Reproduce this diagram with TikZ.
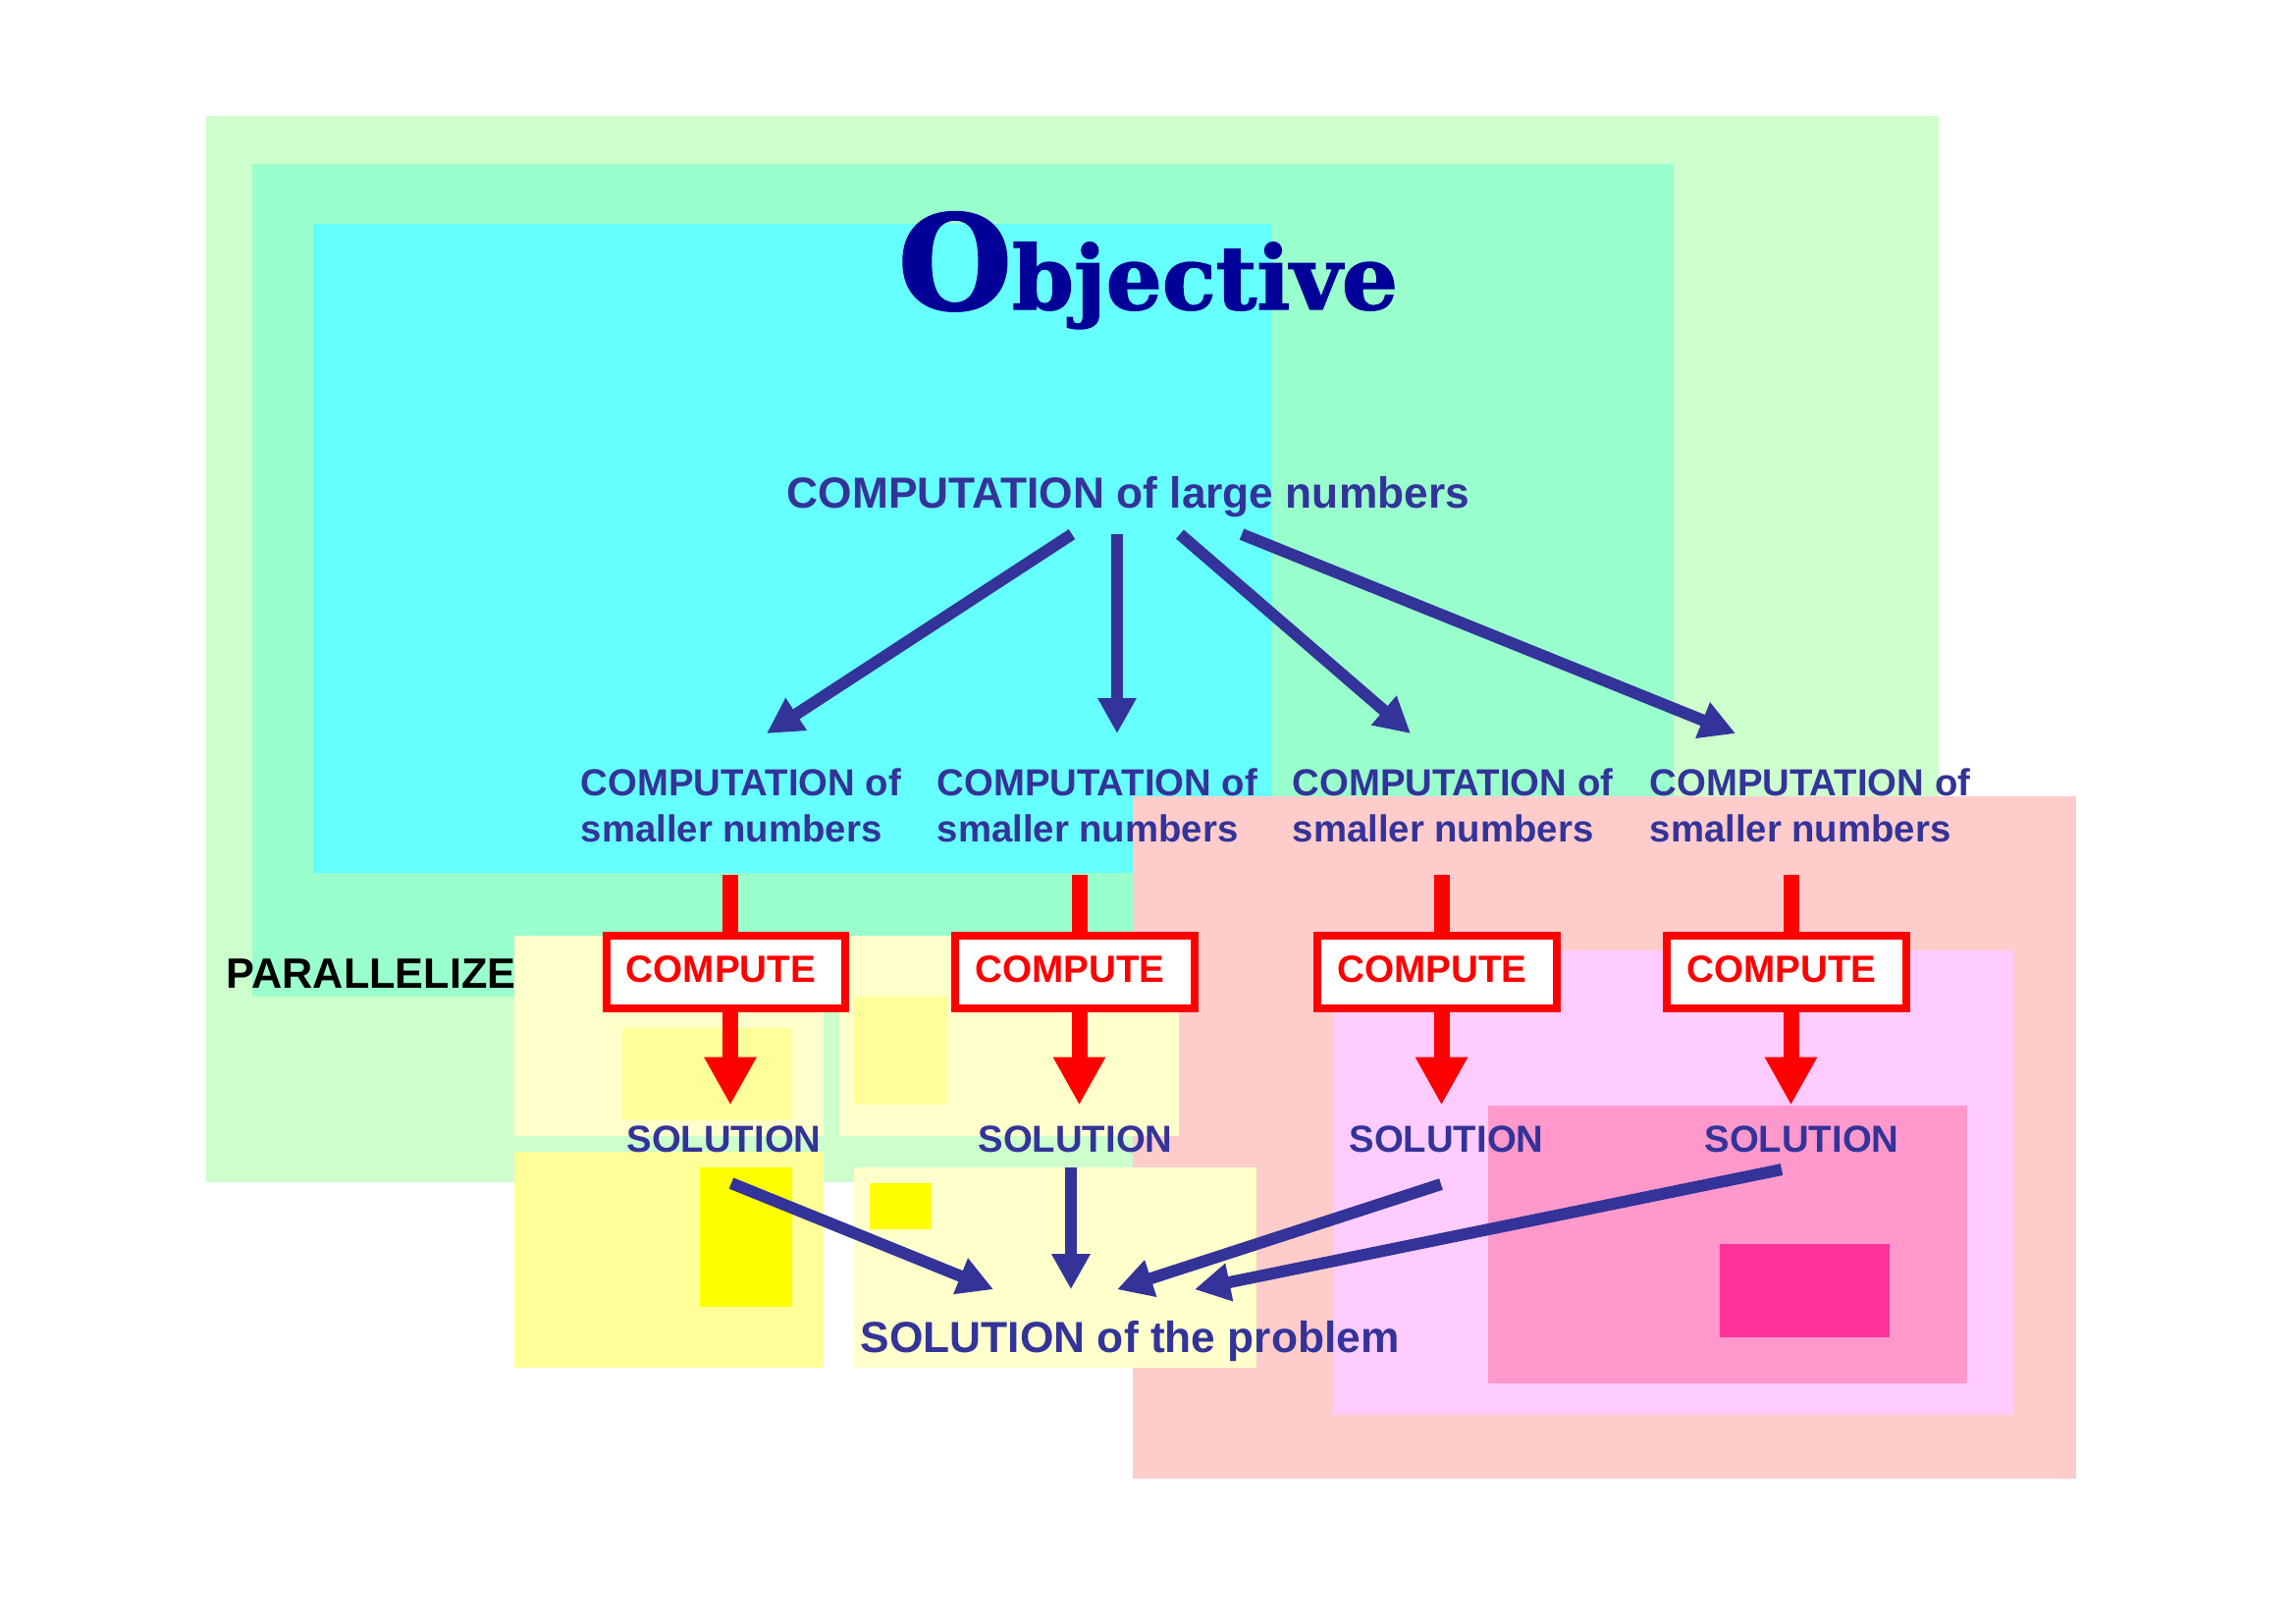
\documentclass[tikz,border=0pt]{standalone}
\usepackage{fontspec}
\setmainfont{Liberation Sans}
\newfontfamily\objfont[UprightFont={* Bold}, FakeBold=1.6]{DejaVu Serif}
\usetikzlibrary{positioning, arrows.meta, calc}

\definecolor{lgreen}{HTML}{CCFFCC}
\definecolor{mgreen}{HTML}{99FFCC}
\definecolor{lcyan}{HTML}{66FFFF}
\definecolor{salmon}{HTML}{FFCCCC}
\definecolor{lmagenta}{HTML}{FFCCFF}
\definecolor{mpink}{HTML}{FF99CC}
\definecolor{hpink}{HTML}{FF3399}
\definecolor{lyellow}{HTML}{FFFFCC}
\definecolor{myellow}{HTML}{FFFF99}
\definecolor{syellow}{HTML}{FFFF00}
\definecolor{lblue}{HTML}{333399}
\definecolor{objblue}{HTML}{000099}

\tikzset{
  lbl/.style={text=lblue, font=\bfseries\fontsize{10.9}{13.4}\selectfont, inner sep=0pt},
  biglbl/.style={text=lblue, font=\bfseries\fontsize{12.6}{15}\selectfont, inner sep=0pt},
  computebox/.style={draw=red, line width=0.08cm, fill=white, text=red,
    font=\bfseries\fontsize{11}{13}\selectfont, minimum width=2.43cm,
    minimum height=0.74cm, inner sep=0pt, text depth=0.07cm},
  redline/.style={draw=red, line width=0.16cm},
  redarrow/.style={redline, -{Triangle[width=0.5cm, length=0.49cm]}},
  bluearrow/.style={draw=lblue, line width=0.12cm, -{Triangle[width=0.37cm, length=0.36cm]}}
}

\begin{document}
\begin{tikzpicture}[x=0.01cm, y=-0.01cm]
\useasboundingbox (0,0) rectangle (2339,1653);

% background boxes
\fill[lgreen] (210,118) rectangle (1975,1204);
\fill[mgreen] (257,167) rectangle (1705,1015);
\fill[lcyan] (319,228) rectangle (1296,889);
\fill[salmon] (1154,811) rectangle (2115,1506);
\fill[lmagenta] (1358,968) rectangle (2051,1441);
\fill[mpink] (1516,1126) rectangle (2004,1409);
\fill[hpink] (1752,1267) rectangle (1925,1362);
\fill[lyellow] (524,953) rectangle (839,1157);
\fill[lyellow] (855,953) rectangle (1201,1157);
\fill[myellow] (634,1047) rectangle (807,1141);
\fill[myellow] (870,1015) rectangle (965,1125);
\fill[myellow] (524,1173) rectangle (839,1393);
\fill[lyellow] (870,1189) rectangle (1280,1393);
\fill[syellow] (713,1189) rectangle (807,1331);
\fill[syellow] (886,1205) rectangle (949,1252);

% title
\node[anchor=base west, inner sep=0pt, text=objblue, font=\objfont] (obj) at (914,315)
  {\fontsize{38}{42}\selectfont O\fontsize{25.6}{28}\selectfont bjective};

\node[biglbl, anchor=base] (big) at (1149.5,517) {COMPUTATION of large numbers};
\foreach \i/\x in {1/591, 2/954, 3/1316, 4/1680}
  \node[lbl, align=left, anchor=north west] (s\i) at (\x,782) {COMPUTATION of\\smaller numbers};

\node[anchor=base west, inner sep=0pt, font=\bfseries\fontsize{12.3}{15}\selectfont] (par) at (230,1006) {PARALLELIZE};

\foreach \i/\x in {1/739.5, 2/1095, 3/1464, 4/1820}
  \node[computebox] (c\i) at (\x,990) {COMPUTE\kern0.1cm};
\foreach \i/\x in {1/737.5, 2/1095.5, 3/1473.5, 4/1835.5}
  \node[lbl, anchor=base] (sol\i) at (\x,1173) {SOLUTION};

\node[biglbl, anchor=base west] (prob) at (876,1377) {SOLUTION of the problem};

% red steps
\foreach \i in {1,...,4} {
  \draw[redline] ($(c\i.north |- s\i.south)+(4.5,32)$) -- ($(c\i.north)+(4.5,0)$);
  \draw[redarrow] ($(c\i.south)+(4.5,0)$) -- ($(sol\i.north -| c\i.south)+(4.5,-20)$);
}

% split and merge
\foreach \i/\a/\b in {1/-57.5/190, 2/-11.5/184, 3/52.5/121, 4/115.5/88}
  \draw[bluearrow] ($(big.south)+(\a,17)$) -- ($(s\i.north west)+(\b,-35)$);
\foreach \i/\a/\c/\b in {1/7.5/31/136, 2/-4.5/15/215, 3/-5.5/32/262, 4/-20.5/17/341}
  \draw[bluearrow] ($(sol\i.south)+(\a,\c)$) -- ($(prob.north west)+(\b,-31)$);
\end{tikzpicture}
\end{document}
